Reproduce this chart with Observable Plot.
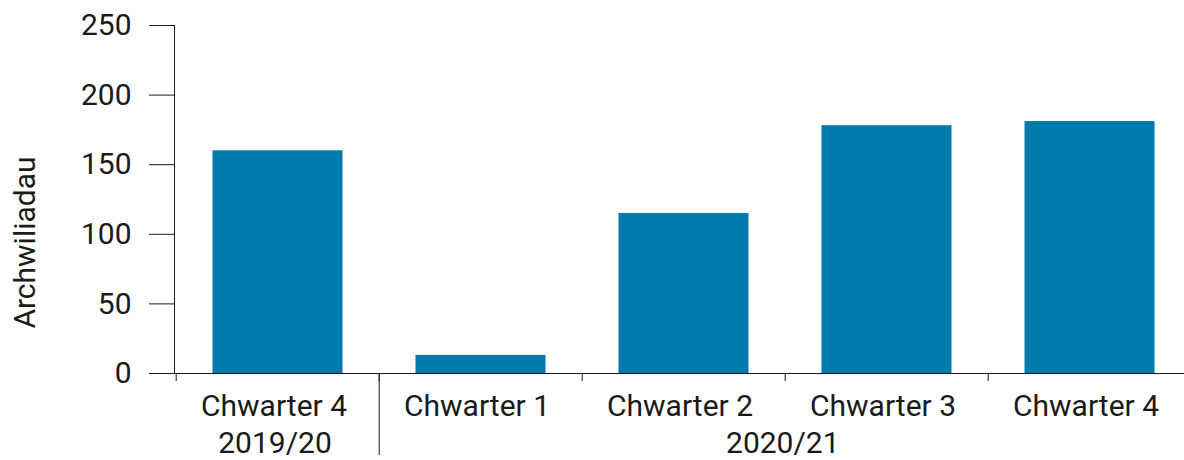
<!DOCTYPE html>
<html>
<head>
<meta charset="utf-8">
<script src="https://cdn.jsdelivr.net/npm/d3@7"></script>
<script src="https://cdn.jsdelivr.net/npm/@observablehq/plot@0.6"></script>
<style>
  html, body { margin: 0; padding: 0; overflow: hidden; background: #fff; }
  #chart svg { max-width: none !important; }
</style>
</head>
<body>
<div id="chart"></div>
<script>
const quarters = ["Chwarter 4", "Chwarter 1", "Chwarter 2", "Chwarter 3", "Chwarter 4"];
const years = ["2019/20", "2020/21", "2020/21", "2020/21", "2020/21"];
const values = [160, 13, 115, 178, 181];
const yTicks = [0, 50, 100, 150, 200, 250];
const yLabel = "Archwiliadau";

const data = quarters.map((q, i) => ({key: `${years[i]} ${q}`, quarter: q, year: years[i], value: values[i]}));
const keys = data.map(d => d.key);

const width = 1200, height = 460;
const marginLeft = 174, marginRight = 8, marginTop = 25, marginBottom = 87;
const step = (width - marginLeft - marginRight) / keys.length;

// year groups
const groups = [];
years.forEach((y, i) => {
  const g = groups.find(g => g.year === y);
  if (g) g.last = i; else groups.push({year: y, first: i, last: i});
});
const groupLabels = groups.map(g => {
  const idx = (g.first + g.last) / 2;
  const fl = Math.floor(idx);
  return {year: g.year, key: keys[fl], frac: idx - fl};
});
const separators = groups.slice(1).map(g => keys[g.first]);

const ink = "#1a1a1a";
const marks = [
  Plot.barY(data, {x: "key", y: "value", fill: "#0079ad", insetLeft: 36.5, insetRight: 36.5}),
  Plot.frame({anchor: "left", stroke: ink}),
  Plot.ruleY([0], {stroke: ink}),
  Plot.axisY({ticks: yTicks, tickSize: 25, tickPadding: 18, label: null, stroke: ink, fill: ink}),
  Plot.axisX(keys, {tickSize: 8, dx: -step / 2, tickFormat: () => "", label: null, stroke: ink}),
  Plot.axisX(separators, {tickSize: 82, dx: -step / 2, tickFormat: () => "", label: null, stroke: ink}),
  Plot.text(data, {x: "key", text: "quarter", frameAnchor: "bottom", lineAnchor: "bottom", dy: 42.5, dx: -4, fill: ink}),
  ...groupLabels.map(g => Plot.text([g], {x: "key", text: "year", frameAnchor: "bottom", lineAnchor: "bottom", dy: 79.5, dx: g.frac * step - 3, fill: ink})),
  Plot.text([yLabel], {text: d => d, frameAnchor: "left", textAnchor: "middle", rotate: -90, dx: -149, dy: 43, fill: ink})
];

const chart = Plot.plot({
  width, height, marginLeft, marginRight, marginTop, marginBottom,
  style: {fontFamily: "Roboto, sans-serif", fontSize: "30px", color: ink, background: "#fff", maxWidth: "none"},
  x: {domain: keys, padding: 0, axis: null},
  y: {domain: [0, 250], axis: null},
  marks
});
document.getElementById("chart").appendChild(chart);
</script>
</body>
</html>
